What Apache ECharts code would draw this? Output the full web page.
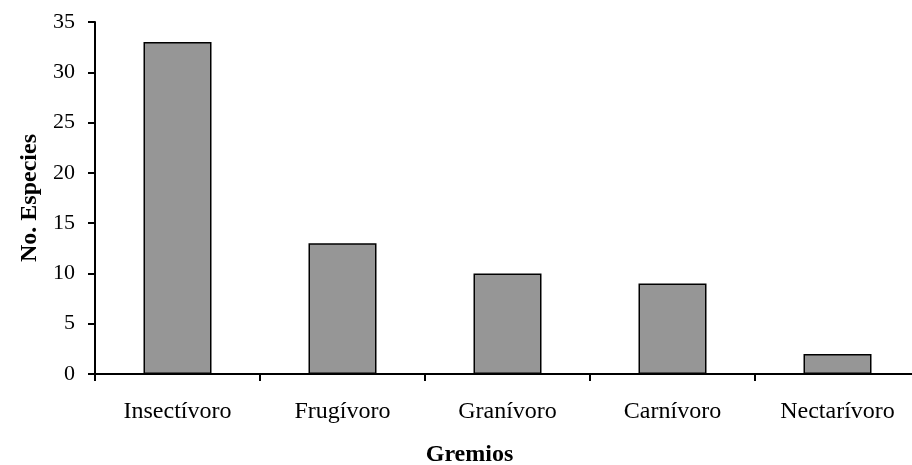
<!DOCTYPE html>
<html><head><meta charset="utf-8">
<script src="https://cdn.jsdelivr.net/npm/echarts@6/dist/echarts.min.js"></script>
<style>html,body{margin:0;padding:0;background:#fff}#c{width:912px;height:465px}</style>
</head><body><div id="c"></div>
<script>
const categories = ['Insectívoro', 'Frugívoro', 'Granívoro', 'Carnívoro', 'Nectarívoro'];
const values = [33, 13, 10, 9, 2];
const yTicks = [0, 5, 10, 15, 20, 25, 30, 35];

const chart = echarts.init(document.getElementById('c'));
const font = '"Liberation Serif", "Times New Roman", serif';
chart.setOption({
  animation: false,
  grid: { left: 95, top: 22, width: 825, height: 352, containLabel: false, outerBoundsMode: 'none' },
  xAxis: {
    type: 'category', data: categories,
    name: 'Gremios', nameLocation: 'middle', nameGap: 69,
    nameTextStyle: { fontFamily: font, fontSize: 24, fontWeight: 'bold', color: '#000', padding: [0, 76, 0, 0] },
    axisLine: { lineStyle: { color: '#000', width: 2 } },
    axisTick: { show: true, length: 7, lineStyle: { color: '#000', width: 2 } },
    axisLabel: { fontFamily: font, fontSize: 24, color: '#000', margin: 26 }
  },
  yAxis: {
    type: 'value', min: 0, max: 35, interval: 5,
    name: 'No. Especies', nameLocation: 'middle', nameGap: 52, nameRotate: 90,
    nameTextStyle: { fontFamily: font, fontSize: 24, fontWeight: 'bold', color: '#000' },
    axisLine: { show: true, lineStyle: { color: '#000', width: 2 } },
    axisTick: { show: true, length: 7, lineStyle: { color: '#000', width: 2 } },
    splitLine: { show: false },
    axisLabel: { fontFamily: font, fontSize: 22, color: '#000', margin: 20,
      formatter: v => yTicks.includes(v) ? String(v) : '' }
  },
  series: [{
    type: 'bar', data: values, barWidth: 68,
    itemStyle: { color: '#969696', borderColor: '#000', borderWidth: 1.5 }
  }]
});
</script></body></html>
